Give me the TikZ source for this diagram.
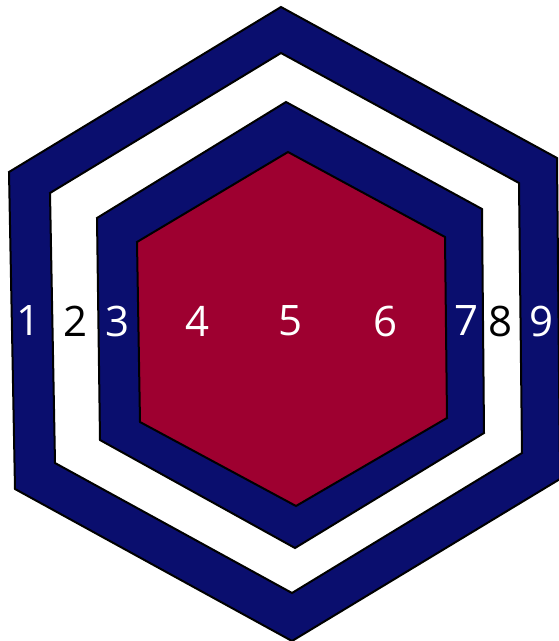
\documentclass[tikz,border=0pt]{standalone}
\usepackage{fontspec}
\setmainfont{Open Sans}
\usepackage{xcolor}
\usepackage{tikz}
\usetikzlibrary{positioning}
\definecolor{ring}{HTML}{0A0E6E}
\definecolor{core}{HTML}{9E0030}

\begin{document}
\begin{tikzpicture}[x=1pt,y=-1pt,line join=miter,
   hexrim/.style={draw=black,line width=2pt},
   num/.style={font=\fontsize{42}{48}\selectfont,text=white,inner sep=0pt}]
\useasboundingbox (0,0) rectangle (559,641);
% rings, outside in
\draw[hexrim,fill=ring] (281,7) -- (557,158) -- (560,479) -- (292,641) -- (15,489) -- (9,172) -- cycle;
\draw[hexrim,fill=white] (281,53) -- (519,183) -- (522,453) -- (292,593) -- (55,463) -- (50,193) -- cycle;
\draw[hexrim,fill=ring] (286,102) -- (482,209) -- (484,433) -- (295,548) -- (100,440) -- (97,218) -- cycle;
\draw[hexrim,fill=core] (288,152) -- (445,237) -- (447,418) -- (296,506) -- (140,422) -- (137,242) -- cycle;
% numbers across the middle
\node[num] (n1) at (29,321) {1};
\node[num,text=black] (n2) at (76,321) {2};
\node[num] (n3) at (118,321) {3};
\node[num] (n4) at (198,321) {4};
\node[num] (n5) at (291,321) {5};
\node[num] (n6) at (386,321) {6};
\node[num] (n7) at (467,321) {7};
\node[num,text=black] (n8) at (501,321) {8};
\node[num] (n9) at (542,321) {9};
\end{tikzpicture}
\end{document}
